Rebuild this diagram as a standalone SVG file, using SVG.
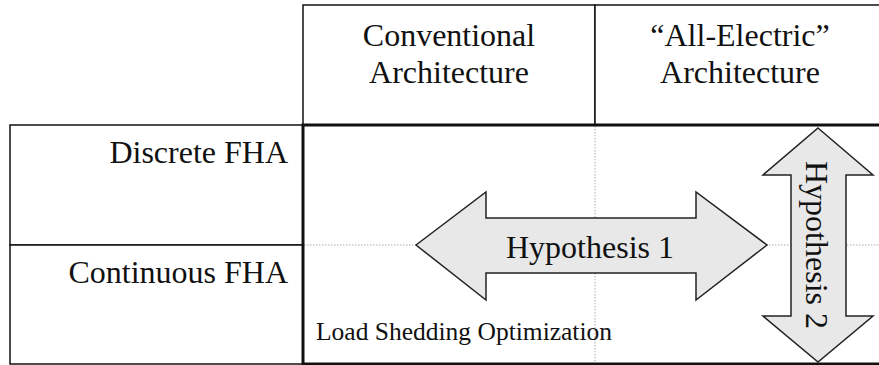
<svg xmlns="http://www.w3.org/2000/svg" width="879" height="365" viewBox="0 0 879 365">
<style>
.t{font-family:"Liberation Serif","Times New Roman",serif;fill:#111}
.big{font-size:32px}
.sm{font-size:25.5px}
.cell{fill:#fff;stroke:#111;stroke-width:1.5}
.dot{stroke:#aaa;stroke-width:1;stroke-dasharray:1.5,1.5;fill:none}
.arr{fill:#e8e8e8;stroke:#222;stroke-width:1.5;stroke-linejoin:miter}
</style>
<rect width="879" height="365" fill="#fff"/>
<g id="header-conventional">
<rect class="cell" x="303" y="5" width="292" height="120"/>
<text class="t big" x="449" y="46" text-anchor="middle">Conventional</text>
<text class="t big" x="449" y="83" text-anchor="middle">Architecture</text>
</g>
<g id="header-allelectric">
<rect class="cell" x="595" y="5" width="290" height="120"/>
<text class="t big" x="740" y="46" text-anchor="middle">“All-Electric”</text>
<text class="t big" x="740" y="83" text-anchor="middle">Architecture</text>
</g>
<g id="row-discrete">
<rect class="cell" x="10" y="125" width="293" height="120"/>
<text class="t big" x="288" y="163" text-anchor="end">Discrete FHA</text>
</g>
<g id="row-continuous">
<rect class="cell" x="10" y="245" width="293" height="119"/>
<text class="t big" x="288" y="283" text-anchor="end">Continuous FHA</text>
</g>
<g id="grid">
<line class="dot" x1="595" y1="126" x2="595" y2="363"/>
<line class="dot" x1="304" y1="245" x2="879" y2="245"/>
<rect x="303" y="125" width="590" height="239" fill="none" stroke="#111" stroke-width="3"/>
<text class="t sm" x="316" y="340">Load Shedding Optimization</text>
</g>
<g id="connectors">
<g id="hypothesis1">
<polygon class="arr" points="416,245 486,192 486,218 696,218 696,192 767,245 696,300 696,273 486,273 486,300"/>
<text class="t big" x="590" y="258" text-anchor="middle">Hypothesis 1</text>
</g>
<g id="hypothesis2">
<polygon class="arr" points="818,128 873,175 846,175 846,316 873,316 818,362 763,316 791,316 791,175 763,175"/>
<text class="t big" transform="translate(806,245) rotate(90)" x="0" y="0" text-anchor="middle">Hypothesis 2</text>
</g>
</g>
</svg>
